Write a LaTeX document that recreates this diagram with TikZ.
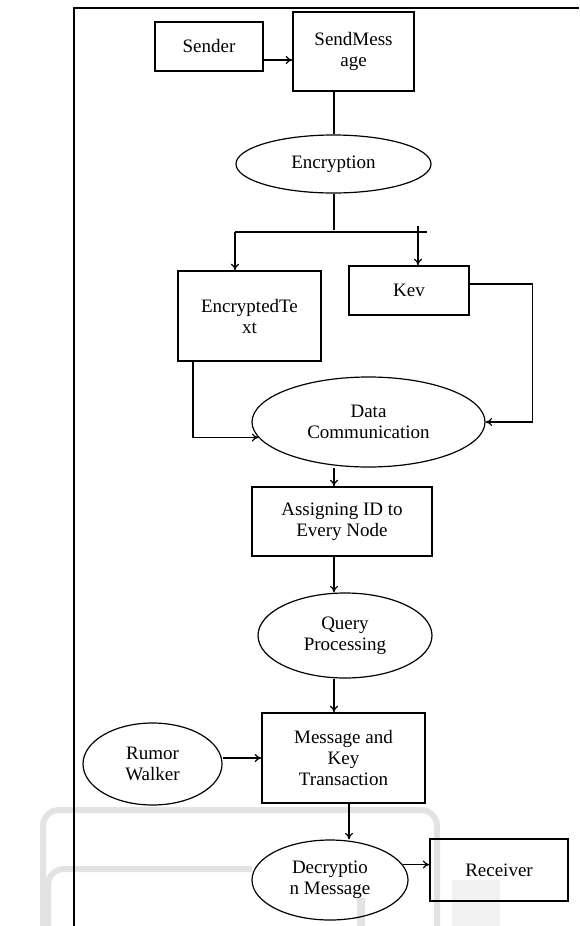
\documentclass[tikz,border=0pt]{standalone}
\usepackage{fontspec}
\setmainfont{Liberation Serif}
\usetikzlibrary{shapes.geometric,arrows.meta}

\begin{document}
\begin{tikzpicture}[x=1pt,y=-1pt,
	box/.style={draw,line width=1.4pt,rectangle,align=center,inner sep=0pt},
	oval/.style={draw,line width=1.2pt,ellipse,align=center,inner sep=0pt},
	arr/.style={-{To[length=6.5pt,width=8pt]},line width=1.2pt},
	link/.style={line width=1.2pt},
	smudge/.style={gray!22,line width=6pt,rounded corners=16pt},
	font=\fontsize{19}{21}\selectfont]

\useasboundingbox (0,0) rectangle (579,926);

% scan smudges at the bottom
\draw[smudge] (43,926) -- (43,810) -- (437,810) -- (437,926);
\draw[smudge] (48,926) -- (48,869) -- (252,869);
\draw[smudge,line width=8pt] (361,898) -- (361,926);
\fill[gray!10] (452,880) rectangle (500,926);

% page frame
\draw[line width=2.5pt] (74,926) -- (74,8) -- (579,8);

% nodes
\node[box,minimum width=108pt,minimum height=49pt] (sender) at (209,46.5) {Sender};
\node[box,minimum width=121pt,minimum height=79pt] (sendmsg) at (353.5,51.5) {SendMess\\age};
\node[oval,minimum width=195pt,minimum height=58pt] (enc) at (333.5,164) {Encryption};
\node[box,minimum width=143pt,minimum height=90pt] (enctext) at (249.5,316) {EncryptedTe\\xt};
\node[box,minimum width=120pt,minimum height=49pt] (kev) at (409,290.5) {Kev};
\node[oval,minimum width=233pt,minimum height=90pt] (datacomm) at (368.5,422) {Data\\Communication};
\node[box,minimum width=180pt,minimum height=69pt] (assign) at (342,521.5) {Assigning ID to\\Every Node};
\node[oval,minimum width=174pt,minimum height=85pt] (query) at (345,635.5) {Query\\Processing};
\node[box,minimum width=163pt,minimum height=90pt] (msgkey) at (343.5,758) {Message and\\Key\\Transaction};
\node[oval,minimum width=139pt,minimum height=82pt] (rumor) at (152.5,764) {Rumor\\Walker};
\node[oval,minimum width=156pt,minimum height=80pt] (decrypt) at (330,880) {Decryptio\\n Message};
\node[box,minimum width=138pt,minimum height=62pt] (receiver) at (499,870) {Receiver};

% helper points
\coordinate (spine) at (334,0);
\coordinate (drop) at (349,0);
\coordinate (fork) at (334,230);
\coordinate (forkL) at (235,232);
\coordinate (forkR) at (427,232);
\coordinate (kevtop) at (418,226);

% connectors
\draw[arr] ([yshift=-13.5pt]sender.east) -- ([yshift=-13.5pt]sender.east -| sendmsg.west);
\draw[link] (spine |- sendmsg.south) -- (spine |- enc.north);
\draw[link] (spine |- enc.south) -- (fork);
\draw[link] (forkL) -- (forkR);
\draw[arr] (forkL) -- (forkL |- enctext.north);
\draw[arr] (kevtop) -- (kevtop |- kev.north);
\draw[arr] ([yshift=6.5pt]kev.east) -- ++(63,0) |- (datacomm.east);
\draw[arr] ([xshift=-56.5pt]enctext.south) |- (datacomm.188);
\draw[arr] (spine |- datacomm.south) -- (spine |- assign.north);
\draw[arr] (spine |- assign.south) -- (spine |- query.north);
\draw[arr] (spine |- query.south) -- (spine |- msgkey.north);
\draw[arr] (rumor.east |- msgkey.west) -- (msgkey.west);
\draw[arr] (drop |- msgkey.south) -- (drop |- decrypt.north);
\draw[arr] (decrypt.12) -- (decrypt.12 -| receiver.west);

\end{tikzpicture}
\end{document}
